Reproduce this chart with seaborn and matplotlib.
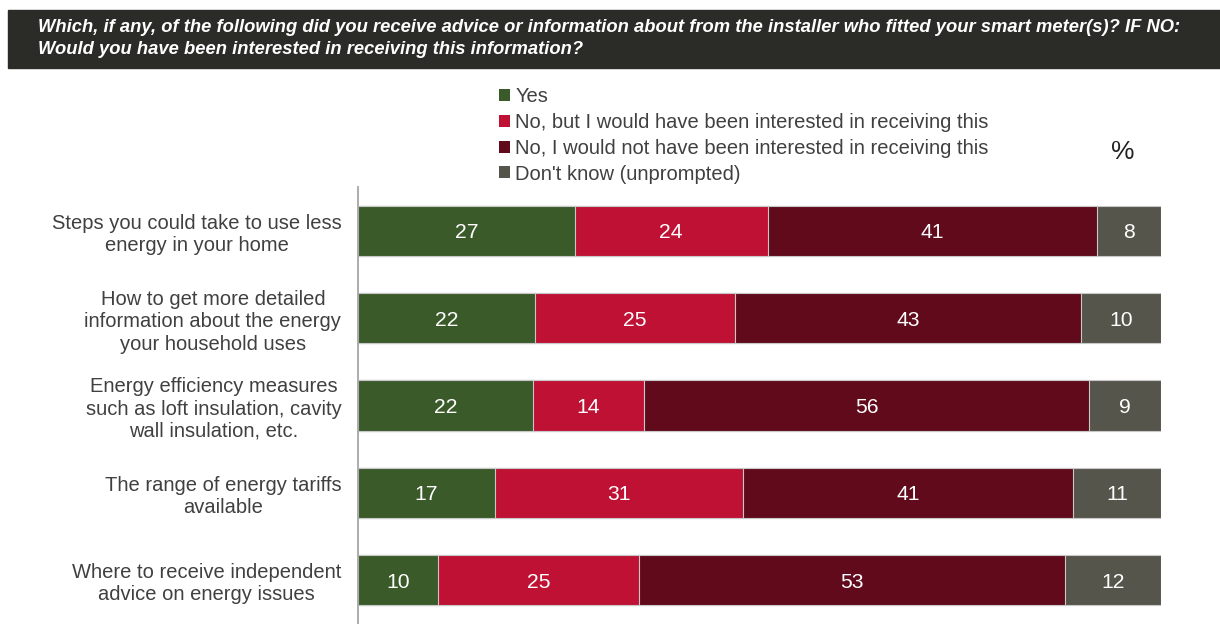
import matplotlib
matplotlib.use("Agg")
import matplotlib.pyplot as plt
from matplotlib.patches import Patch
import numpy as np
import pandas as pd
import seaborn as sns

# Survey items (question rows)
categories = [
    "Steps you could take to use less\nenergy in your home",
    "How to get more detailed\ninformation about the energy\nyour household uses",
    "Energy efficiency measures\nsuch as loft insulation, cavity\nwall insulation, etc.",
    "The range of energy tariffs\navailable",
    "Where to receive independent\nadvice on energy issues",
]

# Response shares (%)
yes = [27, 22, 22, 17, 10]
no_interested = [24, 25, 14, 31, 25]
no_not_interested = [41, 43, 56, 41, 53]
dont_know = [8, 10, 9, 11, 12]

series_names = [
    "Yes",
    "No, but I would have been interested in receiving this",
    "No, I would not have been interested in receiving this",
    "Don't know (unprompted)",
]
series_colors = ["#3a5a2a", "#be1134", "#600a1c", "#55554c"]

values = np.array([yes, no_interested, no_not_interested, dont_know], dtype=float)
# Each bar spans the full width: scale rows by their own total
shares = values / values.sum(axis=0) * 100
cumulative = np.cumsum(shares, axis=0)

df = pd.DataFrame({"category": categories})
for i in range(len(series_names)):
    df[f"cum{i}"] = cumulative[i]

sns.set_theme(style="white")
plt.rcParams["font.family"] = ["Liberation Sans", "DejaVu Sans"]

fig = plt.figure(figsize=(12.2, 6.24), dpi=100)
ax = fig.add_axes([358 / 1220, 0, (1161 - 358) / 1220, 1 - 187 / 624])

# Stacked bars: draw the longest cumulative bar first, shorter ones on top
for i in reversed(range(len(series_names))):
    sns.barplot(
        data=df, x=f"cum{i}", y="category", orient="h",
        color=series_colors[i], saturation=1, width=0.573,
        edgecolor="#c8c8c8", linewidth=0.8, ax=ax,
    )

# Value labels at segment centres
for i in range(len(series_names)):
    starts = cumulative[i] - shares[i]
    for r in range(len(categories)):
        ax.text(starts[r] + shares[i][r] / 2, r,
                f"{int(values[i][r])}", ha="center", va="center_baseline",
                color="white", fontsize=15.2)

ax.set_xlim(0, 100)
ax.set_ylim(4.504, -0.504)
ax.set_xlabel("")
ax.set_ylabel("")
ax.set_xticks([])
ax.set_yticks(range(len(categories)))
ax.set_yticklabels(categories)
for lbl in ax.get_yticklabels():
    lbl.set_multialignment("center")
    lbl.set_fontsize(14.5)
    lbl.set_color("#404040")
    lbl.set_linespacing(1.22)
ax.tick_params(axis="y", length=0, pad=12)
for side in ["top", "right", "bottom"]:
    ax.spines[side].set_visible(False)
ax.spines["left"].set_color("#a6a6a6")
ax.spines["left"].set_linewidth(1.3)

# Header band with the question text
fig.patches.append(plt.Rectangle((8 / 1220, 1 - 68 / 624), 1 - 8 / 1220, 58 / 624,
                                 transform=fig.transFigure, color="#2b2b27", zorder=0))
fig.text(38 / 1220, 1 - 27 / 624,
         "Which, if any, of the following did you receive advice or information about from the installer who fitted your smart meter(s)? IF NO:",
         color="white", fontsize=13.2, fontweight="bold", fontstyle="italic", va="center")
fig.text(38 / 1220, 1 - 49 / 624,
         "Would you have been interested in receiving this information?",
         color="white", fontsize=13.2, fontweight="bold", fontstyle="italic", va="center")

# Legend
handles = [Patch(facecolor=c, edgecolor="none") for c in series_colors]
fig.legend(handles, series_names, loc="upper left",
           bbox_to_anchor=(499 / 1220, 1 - 87 / 624), frameon=False,
           fontsize=14.5, labelcolor="#404040", handlelength=0.55, handleheight=0.55,
           handletextpad=0.25, labelspacing=0.34, borderpad=0, borderaxespad=0)

fig.text(1123 / 1220, 1 - 152 / 624, "%", fontsize=19, color="#222222",
         ha="center", va="center")

fig.savefig("out.png", dpi=100)
